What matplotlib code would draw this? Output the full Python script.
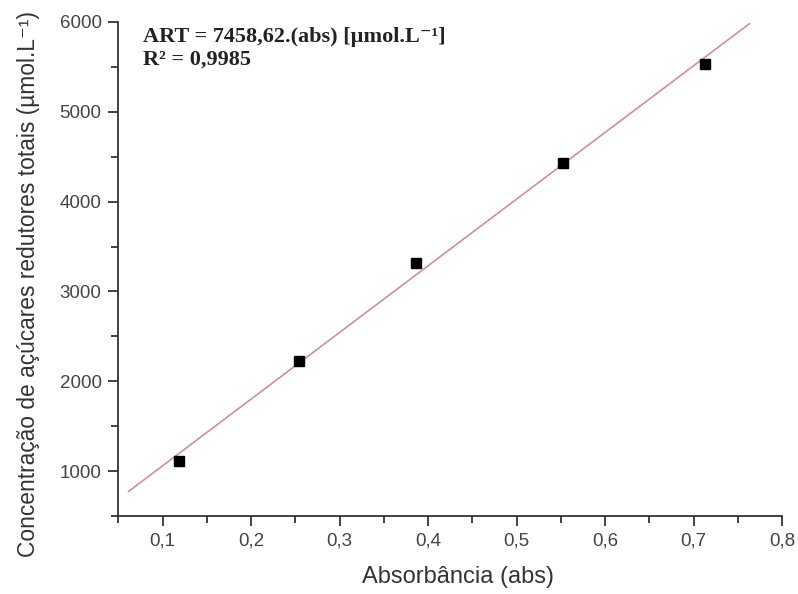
import numpy as np
import matplotlib

matplotlib.use("Agg")
import matplotlib.pyplot as plt
from matplotlib.ticker import MultipleLocator, FuncFormatter

# pontos da curva de calibração
absorbancia = [0.119, 0.2545, 0.386, 0.552, 0.713]
art = [1110, 2221, 3316, 4430, 5535]
# extensão da reta ajustada
reta_x = [0.0617, 0.763]

plt.rcParams["font.family"] = ["Liberation Sans", "DejaVu Sans"]

fig = plt.figure(figsize=(7.98, 5.94), dpi=100)
ax = fig.add_axes([0.1482, 0.1313, 0.8320, 0.8317])

a, b = np.polyfit(absorbancia, art, 1)
xs = np.array(reta_x)
ax.plot(xs, a * xs + b, "-", color="#cf9096", lw=1.2, zorder=2)
ax.plot(absorbancia, art, "s", color="black", ms=6.8, zorder=3)

ax.set_xlim(0.05, 0.8)
ax.set_ylim(500, 6000)
ax.xaxis.set_major_locator(MultipleLocator(0.1))
ax.xaxis.set_minor_locator(MultipleLocator(0.05))
ax.yaxis.set_major_locator(MultipleLocator(1000))
ax.yaxis.set_minor_locator(MultipleLocator(500))
ax.xaxis.set_major_formatter(FuncFormatter(lambda v, p: f"{v:.1f}".replace(".", ",")))
ax.yaxis.set_major_formatter(FuncFormatter(lambda v, p: f"{v:.0f}"))

for s in ("top", "right"):
    ax.spines[s].set_visible(False)
for s in ("left", "bottom"):
    ax.spines[s].set_linewidth(1.3)
    ax.spines[s].set_color("#333333")
ax.tick_params(which="major", length=7.5, width=1.3, labelsize=13.5, pad=4.5,
               color="#333333", labelcolor="#444444")
ax.tick_params(which="minor", length=5, width=1.3, color="#333333")

ax.set_xlabel("Absorbância (abs)", fontsize=17, color="#333333")
ax.set_ylabel("Concentração de açúcares redutores totais (µmol.L⁻¹)", fontsize=16.4,
              color="#333333")
ax.xaxis.set_label_coords(0.511, -0.101)
ax.yaxis.set_label_coords(-0.1175, 0.47)

ax.text(0.037, 0.99, "ART = 7458,62.(abs) [µmol.L⁻¹]\nR² = 0,9985", transform=ax.transAxes,
        ha="left", va="top", fontsize=16, fontweight="bold", linespacing=1.15,
        family=["Liberation Serif", "DejaVu Serif"], color="#222222")

fig.savefig("out.png", dpi=100)
